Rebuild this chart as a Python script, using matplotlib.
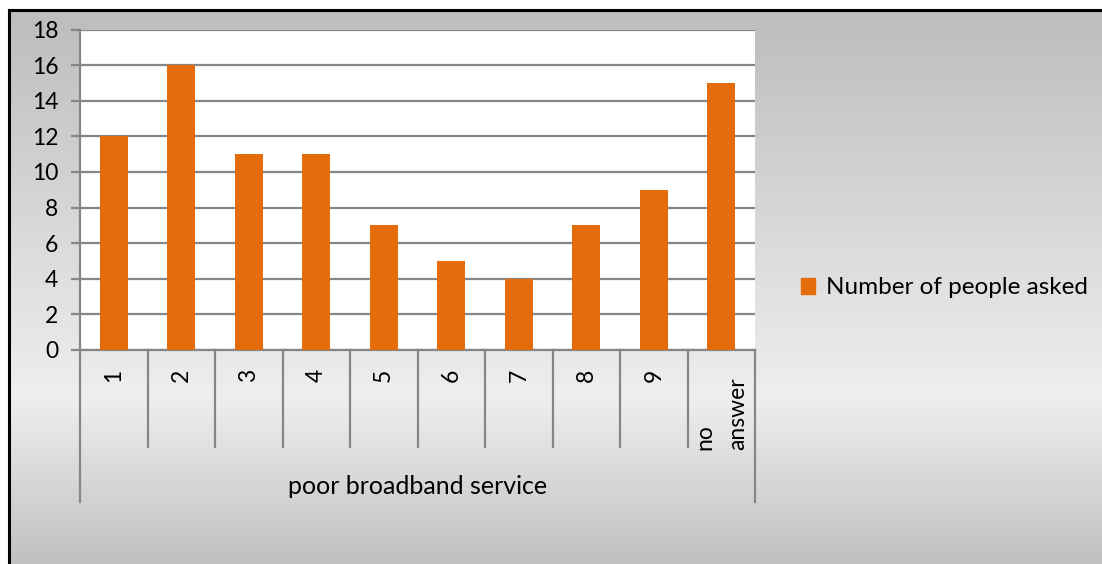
import matplotlib.pyplot as plt
import numpy as np
from matplotlib.lines import Line2D

categories = ['1', '2', '3', '4', '5', '6', '7', '8', '9', 'no\nanswer']
counts = [12, 16, 11, 11, 7, 5, 4, 7, 9, 15]
group_label = 'poor broadband service'
series_name = 'Number of people asked'

W, H = 1102, 564
plt.rcParams['font.family'] = ['Lato', 'DejaVu Sans']

fig = plt.figure(figsize=(W / 100, H / 100), dpi=100)
fig.patch.set_facecolor('white')

# gradient background of the chart area
bg = fig.add_axes([9 / W, 0, 1 - 9 / W, (H - 10) / H])
bg.set_axis_off()
ys = np.linspace(0, 1, 300)
stops_y = [0.0, 0.70, 1.0]
stops_c = [0.74, 0.935, 0.755]
col = np.interp(ys, stops_y, stops_c)
grad = np.repeat(col[:, None], 2, axis=1)
bg.imshow(np.dstack([grad, grad, grad]), aspect='auto', extent=[0, 1, 1, 0])
bg.set_xlim(0, 1)
bg.set_ylim(1, 0)

# chart border (left and top visible)
fig.add_artist(Line2D([9 / W, 9 / W], [0, 1 - 10 / H], color='black', lw=2.2))
fig.add_artist(Line2D([9 / W, 1], [1 - 10 / H, 1 - 10 / H], color='black', lw=2.2))

# plot area
px_l, px_r, px_t, px_b = 80, 755, 29.5, 350
ax = fig.add_axes([px_l / W, (H - px_b) / H, (px_r - px_l) / W, (px_b - px_t) / H])
ax.set_facecolor('white')
x = np.arange(len(categories))
ax.bar(x, counts, width=0.415, color='#E46C0A', zorder=3, label=series_name)
ax.set_xlim(-0.5, len(categories) - 0.5)
ax.set_ylim(0, 18)
ax.set_yticks(range(0, 19, 2))
ax.yaxis.grid(True, color='#868686', lw=1.6, zorder=0)
for s in ['top', 'right']:
    ax.spines[s].set_visible(False)
for s in ['left', 'bottom']:
    ax.spines[s].set_color('#868686')
    ax.spines[s].set_linewidth(1.6)
ax.tick_params(axis='y', length=6.5, width=1.6, color='#868686', labelsize=16.5, pad=9)
ax.set_xticks([])

# multi-level category axis
tr = ax.get_xaxis_transform()
ph = px_b - px_t
def fy(py):
    return (px_b - py) / ph
for i in range(len(categories) + 1):
    xe = i - 0.5
    bottom = fy(502) if i in (0, len(categories)) else fy(447)
    ax.add_line(Line2D([xe, xe], [0, bottom], transform=tr, color='#868686', lw=1.6, clip_on=False))
for i, lab in enumerate(categories):
    top = fy(377) if '\n' in lab else fy(369)
    ax.text(i, top, lab, transform=tr, rotation=90, ha='center', va='top',
            multialignment='left', fontsize=16.5, linespacing=1.7)
ax.text((len(categories) - 1) / 2, fy(487), group_label, transform=tr, ha='center',
        va='center', fontsize=18)

fig.legend(handles=[plt.Rectangle((0, 0), 1, 1, color='#E46C0A')], labels=[series_name],
           loc='center left', bbox_to_anchor=(779 / W, 1 - 288 / H), frameon=False,
           fontsize=17.5, handlelength=0.6, handleheight=0.6, handletextpad=0.45)

fig.savefig('out.png', dpi=100, facecolor=fig.get_facecolor())
